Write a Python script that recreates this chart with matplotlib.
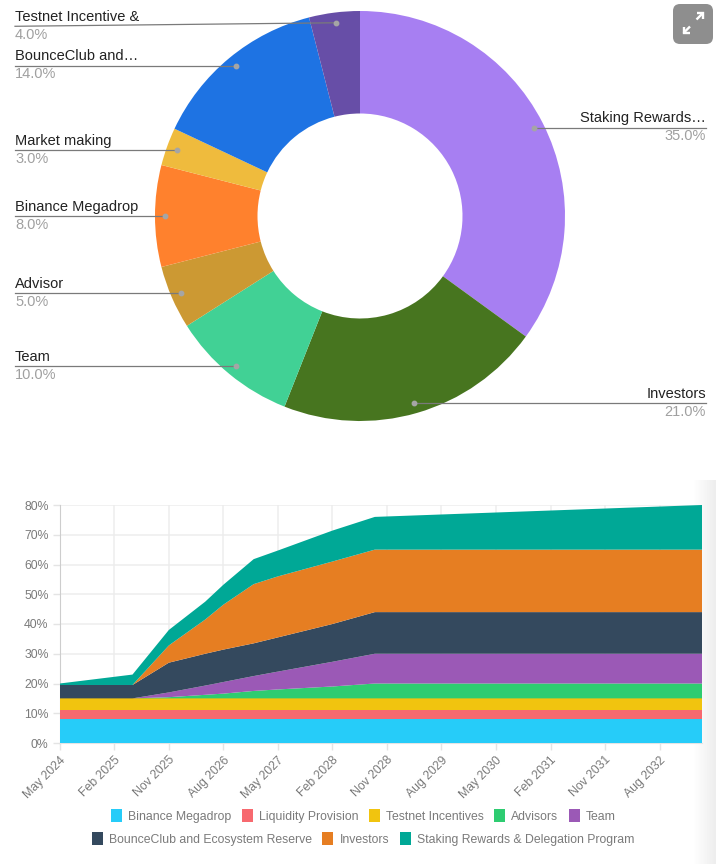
import matplotlib
matplotlib.use("Agg")
import matplotlib.pyplot as plt
import numpy as np
from matplotlib.patches import FancyBboxPatch, Patch

W, H = 716, 864

pie_labels = ["Staking Rewards…", "Investors", "Team", "Advisor", "Binance Megadrop", "Market making", "BounceClub and…", "Testnet Incentive &"]
pie_values = [35, 21, 10, 5, 8, 3, 14, 4]
pie_colors = ["#A77FF2", "#47751F", "#41D195", "#CC9933", "#FF812D", "#EFBB3D", "#1E73E3", "#674EA7"]

# months since May 2024
months = [0, 12, 18, 24, 27, 32, 36, 45, 52, 106]
binance = [8, 8, 8, 8, 8, 8, 8, 8, 8, 8]
liquidity = [3, 3, 3, 3, 3, 3, 3, 3, 3, 3]
testnet = [4, 4, 4, 4, 4, 4, 4, 4, 4, 4]
advisors = [0, 0, 0.4, 1.2, 1.6, 2.5, 3, 4, 5, 5]
team = [0, 0, 1.6, 3.1, 3.9, 5, 6, 8.3, 10, 10]
reserve = [4.5, 4.5, 10, 10.7, 10.9, 11, 11.5, 12.7, 14, 14]
investors = [0, 0, 5.8, 11.5, 15.1, 19.9, 20.5, 21, 21, 21]
staking = [0.5, 3.5, 5.2, 6, 6.7, 8.4, 8.7, 10.4, 11, 15]

area_names = ["Binance Megadrop", "Liquidity Provision", "Testnet Incentives", "Advisors", "Team",
              "BounceClub and Ecosystem Reserve", "Investors", "Staking Rewards & Delegation Program"]
area_colors = ["#26CCF9", "#F7696F", "#F1C40F", "#2ECC71", "#9B59B6", "#34495E", "#E67E22", "#00A896"]
tick_labels = ["May 2024", "Feb 2025", "Nov 2025", "Aug 2026", "May 2027", "Feb 2028",
               "Nov 2028", "Aug 2029", "May 2030", "Feb 2031", "Nov 2031", "Aug 2032"]
y_ticks = [0, 10, 20, 30, 40, 50, 60, 70, 80]

plt.rcParams["font.family"] = ["Liberation Sans", "DejaVu Sans"]
fig = plt.figure(figsize=(W / 100, H / 100), dpi=100)


def px_axes(left, top, right, bottom):
    return fig.add_axes([left / W, 1 - bottom / H, (right - left) / W, (bottom - top) / H])


# donut
R = 205
ax = px_axes(360 - R, 216 - R, 360 + R, 216 + R)
ax.pie(pie_values, colors=pie_colors, startangle=90, counterclock=False, radius=1,
       wedgeprops=dict(width=0.5, linewidth=0))
ax.set_xlim(-1, 1)
ax.set_ylim(-1, 1)
ax.set_aspect("equal")

left_x = (15 - 360) / R
right_x = (706 - 360) / R
cum = 0
for name, val in zip(pie_labels, pie_values):
    ang = np.radians((cum + val / 2) / 100 * 360)
    cum += val
    dx, dy = 0.95 * np.sin(ang), 0.95 * np.cos(ang)
    right = dx > 0
    end_x = right_x if right else left_x
    # the top label's line slopes a little, the others are level
    end_y = dy - 3.5 / R if name.startswith("Testnet") else dy
    ax.plot([end_x, dx], [end_y, dy], color="#7A7A7A", lw=0.9, clip_on=False, zorder=5)
    ax.plot([dx], [dy], "o", color="#A5A5A5", ms=3.2, clip_on=False, zorder=6)
    ha = "right" if right else "left"
    ax.text(end_x, end_y + 2.5 / R, name, ha=ha, va="bottom", fontsize=10.5, color="#222222")
    ax.text(end_x, end_y - 1.5 / R, f"{val:.1f}%", ha=ha, va="top", fontsize=10.5, color="#A0A0A0")

# expand button and the soft shadow on the right
btn = fig.add_axes([0, 0, 1, 1], facecolor="none")
btn.imshow(np.linspace(1, 0.93, 24)[None, :], cmap="gray", vmin=0, vmax=1, aspect="auto",
           extent=(692, 716, 864, 480), zorder=0)
btn.set_xlim(0, W)
btn.set_ylim(H, 0)
btn.axis("off")
btn.add_patch(FancyBboxPatch((679, 10), 28, 28, boxstyle="round,pad=6,rounding_size=7", fc="#8E8E8E", ec="none"))
arrow_style = dict(color="white", lw=1.7, solid_capstyle="butt", solid_joinstyle="miter")
btn.plot([696.5, 703], [19.5, 13], **arrow_style)
btn.plot([697, 703, 703], [13, 13, 19], **arrow_style)
btn.plot([690, 683.5], [26.5, 33], **arrow_style)
btn.plot([683.5, 683.5, 690], [27, 33, 33], **arrow_style)

# stacked area
ax2 = px_axes(59.8, 505, 702, 743)
ax2.patch.set_alpha(0)
ax2.stackplot(months, binance, liquidity, testnet, advisors, team, reserve, investors, staking,
              colors=area_colors, linewidth=0, zorder=3)
ax2.set_xlim(0, 106)
ax2.set_ylim(0, 80)
ax2.set_xticks(np.arange(len(tick_labels)) * 9)
ax2.set_xticklabels(tick_labels, rotation=45, ha="right", rotation_mode="anchor", fontsize=8.8, color="#7A7A7A")
ax2.set_yticks(y_ticks)
ax2.set_yticklabels([f"{v}%" for v in y_ticks], fontsize=8.8, color="#7A7A7A")
ax2.grid(color="#EDEDED", lw=1.1, zorder=0)
ax2.set_axisbelow(True)
ax2.tick_params(axis="both", length=5, width=1, color="#E4E4E4", pad=3)
for s in ["top", "right"]:
    ax2.spines[s].set_visible(False)
ax2.spines["bottom"].set_color("#E4E4E4")
ax2.spines["left"].set_color("#CDCDCD")

# two centred legend rows
handles = [Patch(facecolor=c, edgecolor=c, lw=0) for c in area_colors]
legend_style = dict(frameon=False, fontsize=8.8, labelcolor="#7A7A7A", handlelength=0.9, handleheight=1.25,
                    handletextpad=0.5, columnspacing=0.85, borderpad=0, borderaxespad=0)
fig.legend(handles[:5], area_names[:5], ncol=5, loc="center", bbox_to_anchor=(363.5 / W, 1 - 816 / H), **legend_style)
fig.legend(handles[5:], area_names[5:], ncol=3, loc="center", bbox_to_anchor=(363 / W, 1 - 839 / H), **legend_style)

fig.savefig("out.png", dpi=100)
